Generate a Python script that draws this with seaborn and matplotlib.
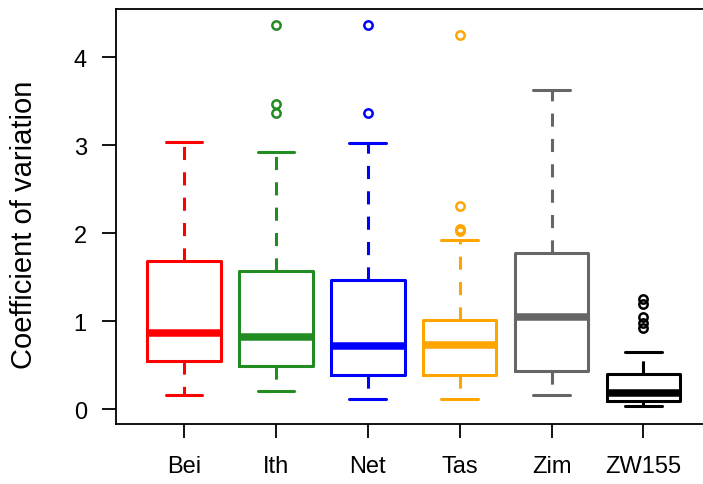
import matplotlib
matplotlib.use("Agg")
import matplotlib.pyplot as plt
import seaborn as sns

# Five-number summaries of the coefficient of variation per population
groups = ["Bei", "Ith", "Net", "Tas", "Zim", "ZW155"]
whisker_low = [0.16, 0.20, 0.11, 0.11, 0.16, 0.03]
q1 = [0.545, 0.49, 0.39, 0.39, 0.43, 0.095]
median = [0.86, 0.82, 0.72, 0.73, 1.05, 0.18]
q3 = [1.68, 1.57, 1.47, 1.01, 1.78, 0.40]
whisker_high = [3.04, 2.92, 3.02, 1.92, 3.63, 0.65]
outliers = [
    [],
    [4.37, 3.47, 3.37],
    [4.37, 3.37],
    [4.25, 2.31, 2.05, 2.02],
    [],
    [1.25, 1.19, 1.05, 0.98, 0.92],
]
colors = ["#FF0000", "#228B22", "#0000FF", "#FFA500", "#666666", "#000000"]
y_ticks = [0, 1, 2, 3, 4]

sns.set_theme(style="ticks")
plt.rcParams["font.family"] = ["Liberation Sans", "DejaVu Sans"]

fig = plt.figure(figsize=(7.03, 4.85), dpi=100)
ax = fig.add_axes([0.165, 0.1237, 0.847, 0.855])

stats = []
for i, name in enumerate(groups):
    stats.append(dict(label=name, whislo=whisker_low[i], q1=q1[i], med=median[i],
                      q3=q3[i], whishi=whisker_high[i], fliers=outliers[i]))

lw = 2.2
for i, s in enumerate(stats):
    c = colors[i]
    ax.bxp([s], positions=[i + 1], widths=0.8, showfliers=True,
           boxprops=dict(color=c, linewidth=lw),
           medianprops=dict(color=c, linewidth=5.4, solid_capstyle="butt"),
           whiskerprops=dict(color=c, linewidth=lw, linestyle=(0, (4.3, 4.0))),
           capprops=dict(color=c, linewidth=lw),
           capwidths=0.4,
           flierprops=dict(marker="o", markerfacecolor="none", markeredgecolor=c,
                           markersize=6.0, markeredgewidth=1.8, linestyle="none"))

ax.set_xlim(0.26, 6.74)
ax.set_ylim(-0.17, 4.545)
ax.set_xticks(range(1, len(groups) + 1))
ax.set_xticklabels(groups)
ax.set_yticks(y_ticks)
ax.set_yticklabels([str(t) for t in y_ticks])

for sp in ax.spines.values():
    sp.set_visible(True)
    sp.set_linewidth(1.3)
    sp.set_color("black")

ax.tick_params(axis="both", length=10, width=1.3, color="black", labelsize=17,
               labelcolor="black")
ax.tick_params(axis="x", pad=12)
ax.tick_params(axis="y", pad=11)

ax.set_ylabel("Coefficient of variation", fontsize=21, color="black")
ax.yaxis.set_label_coords(-0.131, 0.482)
ax.set_xlabel("")

fig.savefig("out.png", dpi=100)
